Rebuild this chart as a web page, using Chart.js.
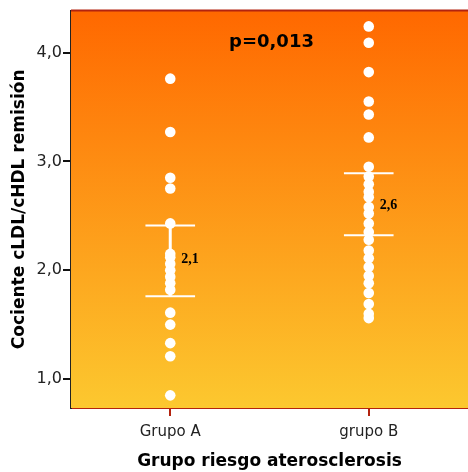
<!DOCTYPE html>
<html>
<head>
<meta charset="utf-8">
<script src="https://cdn.jsdelivr.net/npm/chart.js@4/dist/chart.umd.min.js"></script>
<style>
  html, body { margin: 0; padding: 0; background: #fff; }
  #wrap { width: 468px; height: 472px; }
</style>
</head>
<body>
<div id="wrap"><canvas id="chart" width="468" height="472"></canvas></div>
<script>
// data
const groupLabels = ['Grupo A', 'grupo B'];
const grupoA = [3.76, 3.27, 2.85, 2.75, 2.43, 2.15, 2.12, 2.06, 2.0, 1.94, 1.88, 1.82, 1.61, 1.5, 1.33, 1.21, 0.85];
const grupoB = [4.24, 4.09, 3.82, 3.55, 3.43, 3.22, 2.95, 2.86, 2.79, 2.72, 2.67, 2.58, 2.52, 2.43, 2.35,
                2.28, 2.18, 2.11, 2.03, 1.95, 1.88, 1.79, 1.69, 1.6, 1.56];
const means = [2.1, 2.6];
const lower = [1.76, 2.32];
const upper = [2.41, 2.89];
const yTicks = [1, 2, 3, 4];
const pText = 'p=0,013';

const capHalf = 0.125; // half width of the error bar caps, in x units
const sans = '"DejaVu Sans", Verdana, sans-serif';

function pts(values, x) {
  return values.map(v => ({ x: x, y: v }));
}

function errorSets(i) {
  const x = i + 1;
  const line = { type: 'line', borderColor: '#fff', pointRadius: 0, showLine: true, fill: false };
  return [
    Object.assign({}, line, { borderWidth: 2, data: [{ x: x - capHalf, y: upper[i] }, { x: x + capHalf, y: upper[i] }] }),
    Object.assign({}, line, { borderWidth: 2, data: [{ x: x - capHalf, y: lower[i] }, { x: x + capHalf, y: lower[i] }] }),
    Object.assign({}, line, { borderWidth: 3, data: [{ x: x, y: lower[i] }, { x: x, y: upper[i] }] })
  ];
}

// orange gradient behind the plot, borders and text labels
const decor = {
  id: 'decor',
  beforeDatasetsDraw(chart) {
    const { ctx, chartArea: a } = chart;
    const g = ctx.createLinearGradient(0, a.top, 0, a.bottom);
    g.addColorStop(0, '#ff6800');
    g.addColorStop(1, '#fcc82f');
    ctx.save();
    ctx.fillStyle = g;
    ctx.fillRect(a.left, a.top, a.right - a.left, a.bottom - a.top);
    ctx.restore();
  },
  afterDraw(chart) {
    const { ctx, chartArea: a, scales } = chart;
    ctx.save();
    ctx.strokeStyle = '#b3230f';
    ctx.lineWidth = 2;
    ctx.beginPath();
    ctx.moveTo(a.left, a.top);
    ctx.lineTo(a.right, a.top);
    ctx.stroke();
    // mean labels
    ctx.fillStyle = '#000';
    ctx.font = 'bold 14px "Liberation Serif", serif';
    ctx.textBaseline = 'middle';
    means.forEach((m, i) => {
      const x = scales.x.getPixelForValue(i + 1) + 11;
      const y = scales.y.getPixelForValue(m);
      ctx.fillText(String(m).replace('.', ','), x, y);
    });
    // p value
    ctx.font = 'bold 18px ' + sans;
    ctx.textAlign = 'center';
    ctx.fillText(pText, scales.x.getPixelForValue(1.51), scales.y.getPixelForValue(4.09));
    ctx.restore();
  }
};

new Chart(document.getElementById('chart'), {
  type: 'scatter',
  data: {
    datasets: [
      { data: pts(grupoA, 1), backgroundColor: '#fff', borderWidth: 0, pointRadius: 5.3, pointHoverRadius: 5.3 },
      { data: pts(grupoB, 2), backgroundColor: '#fff', borderWidth: 0, pointRadius: 5.3, pointHoverRadius: 5.3 },
      ...errorSets(0),
      ...errorSets(1)
    ]
  },
  options: {
    responsive: false,
    animation: false,
    layout: { autoPadding: false, padding: { top: 10, right: 0, left: 0, bottom: 0 } },
    plugins: { legend: { display: false }, tooltip: { enabled: false } },
    scales: {
      x: {
        type: 'linear',
        min: 0.5,
        max: 2.5,
        afterBuildTicks: s => { s.ticks = [{ value: 1 }, { value: 2 }]; },
        afterFit: s => { s.height = 64; },
        ticks: {
          callback: v => groupLabels[v - 1],
          color: '#222',
          font: { family: sans, size: 15 },
          padding: 7,
          maxRotation: 0
        },
        grid: { drawOnChartArea: false, drawTicks: true, tickLength: 8, color: '#b3230f', lineWidth: 2 },
        border: { color: '#b3230f', width: 2 },
        title: {
          display: true,
          text: 'Grupo riesgo aterosclerosis',
          color: '#000',
          font: { family: sans, size: 17, weight: 'bold' },
          padding: { top: 2, bottom: 0 }
        }
      },
      y: {
        min: 0.734,
        max: 4.385,
        afterBuildTicks: s => { s.ticks = yTicks.map(v => ({ value: v })); },
        afterFit: s => { s.width = 71; },
        ticks: {
          callback: v => v.toFixed(1).replace('.', ','),
          color: '#222',
          font: { family: sans, size: 16 },
          padding: 1
        },
        grid: { drawOnChartArea: false, drawTicks: true, tickLength: 8, color: '#111', lineWidth: 2 },
        border: { color: '#222', width: 2 },
        title: {
          display: true,
          text: 'Cociente cLDL/cHDL remisión',
          color: '#000',
          font: { family: sans, size: 17, weight: 'bold' },
          padding: { top: 9, bottom: 0 }
        }
      }
    }
  },
  plugins: [decor]
});
</script>
</body>
</html>
